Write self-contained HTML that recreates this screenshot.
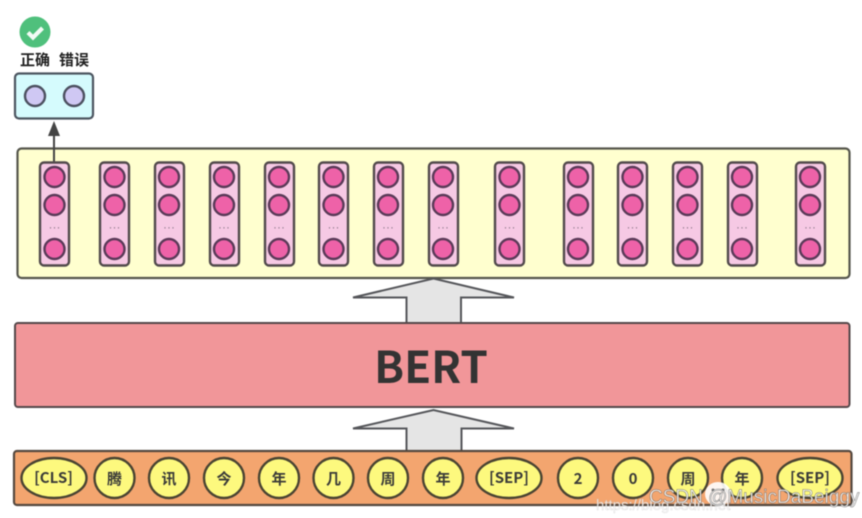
<!DOCTYPE html>
<html><head><meta charset="utf-8">
<style>
html,body{margin:0;padding:0;background:#fff;width:862px;height:518px;overflow:hidden}
svg{display:block;filter:blur(0.5px)}
text{font-family:"Noto Sans CJK SC","Liberation Sans",sans-serif}
</style></head><body>
<svg width="862" height="518" viewBox="0 0 862 518" xmlns="http://www.w3.org/2000/svg">
<rect width="862" height="518" fill="#fff"/>
<!-- check -->
<circle cx="35" cy="32" r="15.500" fill="#4fc07c"/>
<path d="M28 32.500l5 5 9.500-9.500" fill="none" stroke="#f2fbf5" stroke-width="4.200"/>
<text x="35" y="65" font-size="15" font-weight="700" fill="#222" text-anchor="middle">正确</text>
<text x="74" y="65" font-size="15" font-weight="700" fill="#222" text-anchor="middle">错误</text>
<rect x="15" y="73.500" width="78" height="45" rx="4" fill="#d5fbfd" stroke="#4c5560" stroke-width="2.200"/>
<circle cx="35" cy="96" r="10" fill="#cfc8f3" stroke="#4c5060" stroke-width="2.400"/>
<circle cx="74" cy="96" r="10" fill="#cfc8f3" stroke="#4c5060" stroke-width="2.400"/>
<!-- yellow box -->
<rect x="17.500" y="148.500" width="832" height="129.500" rx="4" fill="#ffffcf" stroke="#55564c" stroke-width="2.200"/>
<line x1="54" y1="162" x2="54" y2="134" stroke="#444" stroke-width="2"/>
<path d="M54 121l6 15H48z" fill="#444"/>
<g id="cols" stroke="#524a4c" stroke-width="2.400">
<rect x="40" y="162.500" width="29" height="103" rx="4" fill="#f6c9e4"/><circle cx="54.500" cy="177" r="10" fill="#ee62a8" stroke="#5a3a58"/><circle cx="54.500" cy="205" r="10" fill="#ee62a8" stroke="#5a3a58"/><circle cx="54.500" cy="249" r="10" fill="#ee62a8" stroke="#5a3a58"/>
<rect x="100" y="162.500" width="29" height="103" rx="4" fill="#f6c9e4"/><circle cx="114.500" cy="177" r="10" fill="#ee62a8" stroke="#5a3a58"/><circle cx="114.500" cy="205" r="10" fill="#ee62a8" stroke="#5a3a58"/><circle cx="114.500" cy="249" r="10" fill="#ee62a8" stroke="#5a3a58"/>
<rect x="155" y="162.500" width="29" height="103" rx="4" fill="#f6c9e4"/><circle cx="169" cy="177" r="10" fill="#ee62a8" stroke="#5a3a58"/><circle cx="169" cy="205" r="10" fill="#ee62a8" stroke="#5a3a58"/><circle cx="169" cy="249" r="10" fill="#ee62a8" stroke="#5a3a58"/>
<rect x="210" y="162.500" width="29" height="103" rx="4" fill="#f6c9e4"/><circle cx="224" cy="177" r="10" fill="#ee62a8" stroke="#5a3a58"/><circle cx="224" cy="205" r="10" fill="#ee62a8" stroke="#5a3a58"/><circle cx="224" cy="249" r="10" fill="#ee62a8" stroke="#5a3a58"/>
<rect x="265" y="162.500" width="29" height="103" rx="4" fill="#f6c9e4"/><circle cx="279" cy="177" r="10" fill="#ee62a8" stroke="#5a3a58"/><circle cx="279" cy="205" r="10" fill="#ee62a8" stroke="#5a3a58"/><circle cx="279" cy="249" r="10" fill="#ee62a8" stroke="#5a3a58"/>
<rect x="319" y="162.500" width="29" height="103" rx="4" fill="#f6c9e4"/><circle cx="333.500" cy="177" r="10" fill="#ee62a8" stroke="#5a3a58"/><circle cx="333.500" cy="205" r="10" fill="#ee62a8" stroke="#5a3a58"/><circle cx="333.500" cy="249" r="10" fill="#ee62a8" stroke="#5a3a58"/>
<rect x="374" y="162.500" width="29" height="103" rx="4" fill="#f6c9e4"/><circle cx="388" cy="177" r="10" fill="#ee62a8" stroke="#5a3a58"/><circle cx="388" cy="205" r="10" fill="#ee62a8" stroke="#5a3a58"/><circle cx="388" cy="249" r="10" fill="#ee62a8" stroke="#5a3a58"/>
<rect x="429" y="162.500" width="29" height="103" rx="4" fill="#f6c9e4"/><circle cx="443" cy="177" r="10" fill="#ee62a8" stroke="#5a3a58"/><circle cx="443" cy="205" r="10" fill="#ee62a8" stroke="#5a3a58"/><circle cx="443" cy="249" r="10" fill="#ee62a8" stroke="#5a3a58"/>
<rect x="495" y="162.500" width="29" height="103" rx="4" fill="#f6c9e4"/><circle cx="509.500" cy="177" r="10" fill="#ee62a8" stroke="#5a3a58"/><circle cx="509.500" cy="205" r="10" fill="#ee62a8" stroke="#5a3a58"/><circle cx="509.500" cy="249" r="10" fill="#ee62a8" stroke="#5a3a58"/>
<rect x="564" y="162.500" width="29" height="103" rx="4" fill="#f6c9e4"/><circle cx="578" cy="177" r="10" fill="#ee62a8" stroke="#5a3a58"/><circle cx="578" cy="205" r="10" fill="#ee62a8" stroke="#5a3a58"/><circle cx="578" cy="249" r="10" fill="#ee62a8" stroke="#5a3a58"/>
<rect x="618" y="162.500" width="29" height="103" rx="4" fill="#f6c9e4"/><circle cx="632.500" cy="177" r="10" fill="#ee62a8" stroke="#5a3a58"/><circle cx="632.500" cy="205" r="10" fill="#ee62a8" stroke="#5a3a58"/><circle cx="632.500" cy="249" r="10" fill="#ee62a8" stroke="#5a3a58"/>
<rect x="673" y="162.500" width="29" height="103" rx="4" fill="#f6c9e4"/><circle cx="687.500" cy="177" r="10" fill="#ee62a8" stroke="#5a3a58"/><circle cx="687.500" cy="205" r="10" fill="#ee62a8" stroke="#5a3a58"/><circle cx="687.500" cy="249" r="10" fill="#ee62a8" stroke="#5a3a58"/>
<rect x="728" y="162.500" width="29" height="103" rx="4" fill="#f6c9e4"/><circle cx="742" cy="177" r="10" fill="#ee62a8" stroke="#5a3a58"/><circle cx="742" cy="205" r="10" fill="#ee62a8" stroke="#5a3a58"/><circle cx="742" cy="249" r="10" fill="#ee62a8" stroke="#5a3a58"/>
<rect x="796" y="162.500" width="29" height="103" rx="4" fill="#f6c9e4"/><circle cx="810" cy="177" r="10" fill="#ee62a8" stroke="#5a3a58"/><circle cx="810" cy="205" r="10" fill="#ee62a8" stroke="#5a3a58"/><circle cx="810" cy="249" r="10" fill="#ee62a8" stroke="#5a3a58"/>
</g>
<g font-size="12" fill="#8f7a8c" text-anchor="middle" font-family="Liberation Sans">
<text x="54.500" y="231" style="font-family:'Liberation Sans'">···</text><text x="114.500" y="231" style="font-family:'Liberation Sans'">···</text><text x="169" y="231" style="font-family:'Liberation Sans'">···</text><text x="224" y="231" style="font-family:'Liberation Sans'">···</text><text x="279" y="231" style="font-family:'Liberation Sans'">···</text><text x="333.500" y="231" style="font-family:'Liberation Sans'">···</text><text x="388" y="231" style="font-family:'Liberation Sans'">···</text><text x="443" y="231" style="font-family:'Liberation Sans'">···</text><text x="509.500" y="231" style="font-family:'Liberation Sans'">···</text><text x="578" y="231" style="font-family:'Liberation Sans'">···</text><text x="632.500" y="231" style="font-family:'Liberation Sans'">···</text><text x="687.500" y="231" style="font-family:'Liberation Sans'">···</text><text x="742" y="231" style="font-family:'Liberation Sans'">···</text><text x="810" y="231" style="font-family:'Liberation Sans'">···</text>
</g>
<!-- arrows -->
<path d="M406.500 323V297.500H353L433.500 278.500L514 297.500H461V323" fill="#e5e5e5" stroke="#55565a" stroke-width="2"/>
<path d="M406.500 451V428.500H353L433.500 410L514 428.500H461.500V451" fill="#e5e5e5" stroke="#55565a" stroke-width="2"/>
<!-- BERT -->
<rect x="15" y="323" width="834.500" height="84" rx="3" fill="#f19699" stroke="#54484a" stroke-width="2"/>
<text x="431" y="383" font-size="44" font-weight="700" fill="#333" text-anchor="middle">BERT</text>
<!-- input -->
<rect x="14" y="451" width="837.500" height="54" rx="3" fill="#f3a56f" stroke="#54483f" stroke-width="2.200"/>
<g fill="#fdf97e" stroke="#4a4432" stroke-width="2.400">
<ellipse cx="54" cy="478" rx="32.500" ry="20"/><circle cx="114.500" cy="478" r="20"/><circle cx="169" cy="478" r="20"/><circle cx="224" cy="478" r="20"/><circle cx="279" cy="478" r="20"/><circle cx="333.500" cy="478" r="20"/><circle cx="388" cy="478" r="20"/><circle cx="443" cy="478" r="20"/><ellipse cx="509" cy="478" rx="32.500" ry="20"/><circle cx="578" cy="478" r="20"/><circle cx="633" cy="478" r="20"/><circle cx="688" cy="478" r="20"/><circle cx="742" cy="478" r="20"/><ellipse cx="810" cy="478" rx="32.500" ry="20"/>
</g>
<g font-size="15" font-weight="700" fill="#3b3b38" text-anchor="middle">
<text x="53.500" y="483">[CLS]</text><text x="114.500" y="484">腾</text><text x="169" y="484">讯</text><text x="224" y="484">今</text><text x="279" y="484">年</text><text x="333.500" y="484">几</text><text x="388" y="484">周</text><text x="443" y="484">年</text><text x="509" y="483">[SEP]</text><text x="578" y="484">2</text><text x="633" y="484">0</text><text x="688" y="484">周</text><text x="742" y="484">年</text><text x="810" y="483">[SEP]</text>
</g>
<!-- watermarks -->
<ellipse cx="718" cy="494" rx="13" ry="12" fill="#fff" opacity=".9"/>
<path d="M716 505l5 6 3-6z" fill="#fff" opacity=".9"/>
<circle cx="713" cy="490" r="1.500" fill="#777"/><circle cx="723" cy="490" r="1.500" fill="#777"/>
<text x="596" y="510" font-size="15" fill="#fff" stroke="#bbb" stroke-width=".3" opacity=".8" style="font-family:'Liberation Sans'">https://blog.csdn.net</text>
<text x="649" y="503" font-size="19" fill="#fff" stroke="#666" stroke-width=".5" opacity=".9" style="font-family:'Liberation Sans'">CSDN @MusicDaBeiggy</text>
</svg>
</body></html>
